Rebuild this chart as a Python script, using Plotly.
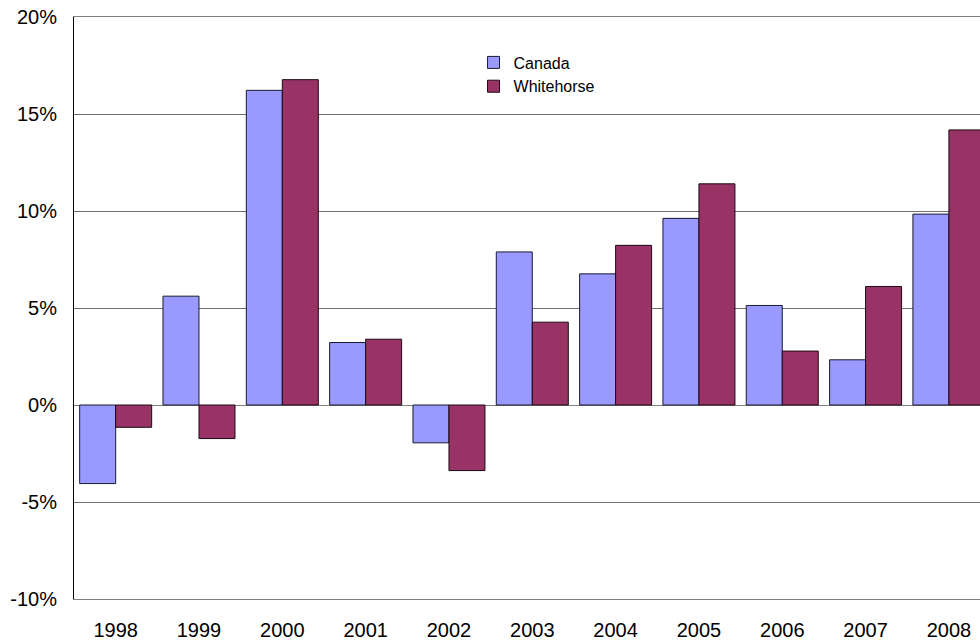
import plotly.graph_objects as go

# Annual change (%) by year
years = ["1998", "1999", "2000", "2001", "2002", "2003", "2004", "2005", "2006", "2007", "2008"]
canada = [-4.05, 5.61, 16.22, 3.22, -1.95, 7.89, 6.76, 9.62, 5.13, 2.33, 9.84]
whitehorse = [-1.15, -1.73, 16.77, 3.39, -3.38, 4.27, 8.23, 11.40, 2.78, 6.11, 14.18]

y_ticks = [-10, -5, 0, 5, 10, 15, 20]
y_tick_labels = ["-10%", "-5%", "0%", "5%", "10%", "15%", "20%"]

FONT = "Liberation Sans, Arial, sans-serif"

fig = go.Figure()
fig.add_trace(go.Bar(
    name="Canada", x=years, y=canada,
    marker=dict(color="#9999FF", line=dict(color="#1a1a2e", width=1)),
))
fig.add_trace(go.Bar(
    name="Whitehorse", x=years, y=whitehorse,
    marker=dict(color="#993366", line=dict(color="#1a0a12", width=1)),
))

fig.update_layout(
    width=980, height=642,
    margin=dict(l=74, r=0, t=17, b=43),
    paper_bgcolor="white", plot_bgcolor="white",
    barmode="group", bargap=0.136, bargroupgap=0,
    font=dict(family=FONT, size=20, color="black"),
    showlegend=True,
    legend=dict(
        x=0.441, y=0.951, xanchor="left", yanchor="top",
        bgcolor="rgba(0,0,0,0)", borderwidth=0,
        font=dict(family=FONT, size=16, color="black"),
        tracegroupgap=0,
    ),
)

fig.update_xaxes(
    type="category",
    range=[-0.5, 10.373],
    showgrid=False,
    showline=True, linecolor="#808080", linewidth=1, mirror=True,
    ticks="", ticklabelstandoff=13,
    tickfont=dict(family=FONT, size=20, color="black"),
)
fig.update_yaxes(
    range=[-10, 20],
    tickvals=y_ticks, ticktext=y_tick_labels,
    showgrid=True, gridcolor="#707070", gridwidth=1,
    zeroline=True, zerolinecolor="#808080", zerolinewidth=1,
    showline=True, linecolor="black", linewidth=1,
    ticks="", ticklabelstandoff=12,
    tickfont=dict(family=FONT, size=20, color="black"),
)

fig.write_html("out.html")
